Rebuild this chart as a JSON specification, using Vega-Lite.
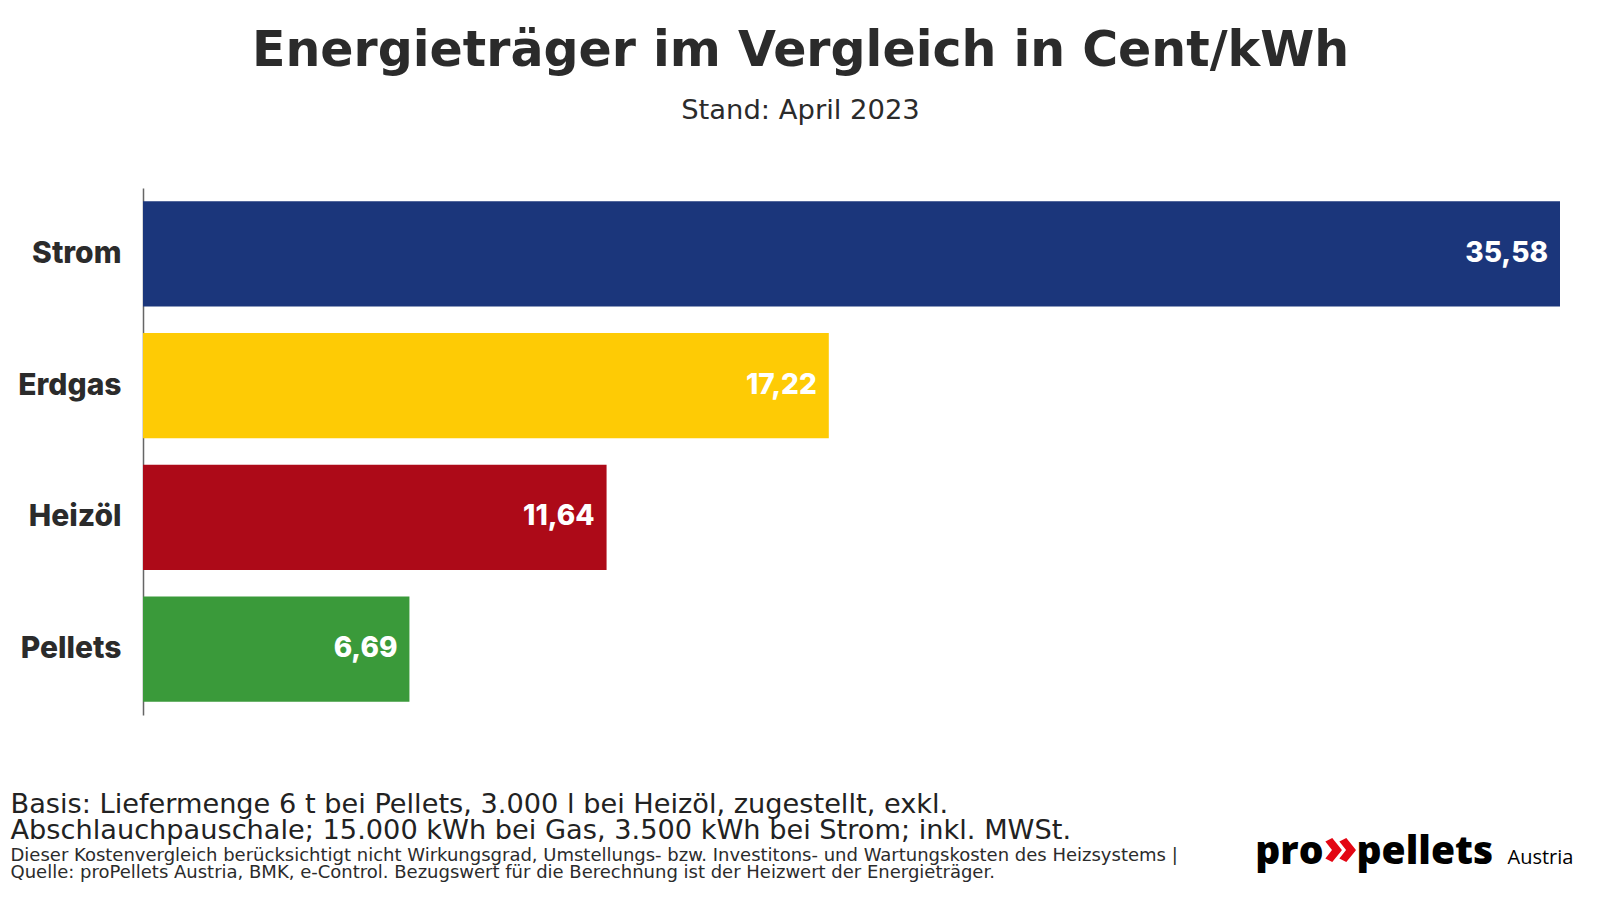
{
  "$schema": "https://vega.github.io/schema/vega-lite/v6.json",
  "width": 1417,
  "height": 527,
  "autosize": "none",
  "padding": {"left": 143, "top": 188, "right": 40, "bottom": 185},
  "background": "white",
  "config": {
    "font": "Inter",
    "view": {"stroke": null},
    "locale": {"number": {"decimal": ",", "thousands": ".", "grouping": [3], "currency": ["", " €"]}}
  },
  "title": {
    "text": "Energieträger im Vergleich in Cent/kWh",
    "subtitle": "Stand: April 2023",
    "anchor": "middle",
    "dx": -51,
    "offset": 64,
    "font": "DejaVu Sans",
    "fontSize": 49,
    "fontWeight": "bold",
    "color": "#2b2b2b",
    "subtitleFont": "DejaVu Sans",
    "subtitleFontSize": 27.4,
    "subtitleColor": "#2b2b2b",
    "subtitlePadding": 21
  },
  "data": {
    "values": [
      {"Energietraeger": "Strom", "Wert": 35.58},
      {"Energietraeger": "Erdgas", "Wert": 17.22},
      {"Energietraeger": "Heizöl", "Wert": 11.64},
      {"Energietraeger": "Pellets", "Wert": 6.69}
    ]
  },
  "resolve": {"axis": {"x": "independent", "y": "independent"}},
  "layer": [
    {
      "mark": {"type": "bar"},
      "encoding": {
        "y": {
          "field": "Energietraeger", "type": "nominal", "sort": null,
          "scale": {"paddingInner": 0.2, "paddingOuter": 0.1},
          "axis": {
            "orient": "left",
            "labelFont": "Inter", "labelFontSize": 30, "labelFontWeight": 800, "labelColor": "#2b2b2b",
            "labelPadding": 22, "ticks": false, "domain": true, "domainColor": "#666666", "domainWidth": 1.5,
            "title": ["Dieser Kostenvergleich berücksichtigt nicht Wirkungsgrad, Umstellungs- bzw. Investitons- und Wartungskosten des Heizsystems |", "Quelle: proPellets Austria, BMK, e-Control. Bezugswert für die Berechnung ist der Heizwert der Energieträger."],
            "titleAngle": 0, "titleX": -133, "titleY": 672, "titleAlign": "left", "titleBaseline": "alphabetic",
            "titleFont": "DejaVu Sans", "titleFontSize": 18, "titleFontWeight": "normal", "titleColor": "#2b2b2b", "titleLineHeight": 17.5
          }
        },
        "x": {
          "field": "Wert", "type": "quantitative",
          "scale": {"domain": [0, 35.58], "nice": false, "zero": true},
          "axis": {
            "orient": "bottom", "labels": false, "ticks": false, "domain": false, "grid": false,
            "title": ["Basis: Liefermenge 6 t bei Pellets, 3.000 l bei Heizöl, zugestellt, exkl.", "Abschlauchpauschale; 15.000 kWh bei Gas, 3.500 kWh bei Strom; inkl. MWSt."],
            "titleX": -133, "titleY": 97, "titleAlign": "left", "titleBaseline": "alphabetic",
            "titleFont": "DejaVu Sans", "titleFontSize": 27.2, "titleFontWeight": "normal", "titleColor": "#222222", "titleLineHeight": 26.5
          }
        },
        "color": {
          "field": "Energietraeger", "type": "nominal",
          "scale": {"domain": ["Strom", "Erdgas", "Heizöl", "Pellets"], "range": ["#1b367b", "#fecb05", "#ad0a18", "#3a9a3a"]},
          "legend": null
        }
      }
    },
    {
      "mark": {"type": "text", "align": "right", "baseline": "middle", "dx": -12, "color": "white", "font": "Inter", "fontSize": 28, "fontWeight": 800},
      "encoding": {
        "y": {
          "field": "Energietraeger", "type": "nominal", "sort": null,
          "axis": {
            "orient": "left", "labels": false, "ticks": false, "domain": false, "grid": false,
            "title": "pro", "titleAngle": 0, "titleX": 1180, "titleY": 675, "titleAlign": "right", "titleBaseline": "alphabetic",
            "titleFont": "Open Sans", "titleFontSize": 39, "titleFontWeight": 800, "titleColor": "#000000"
          }
        },
        "x": {
          "field": "Wert", "type": "quantitative",
          "axis": {
            "orient": "bottom", "labels": false, "ticks": false, "domain": false, "grid": false,
            "title": "Austria", "titleX": 1364, "titleY": 148, "titleAlign": "left", "titleBaseline": "alphabetic",
            "titleFont": "Open Sans", "titleFontSize": 20, "titleFontWeight": "normal", "titleColor": "#000000"
          }
        },
        "text": {"field": "Wert", "type": "quantitative", "format": ".2f"}
      }
    },
    {
      "mark": {"type": "text", "opacity": 0},
      "encoding": {
        "y": {
          "field": "Energietraeger", "type": "nominal", "sort": null,
          "axis": {
            "orient": "left", "labels": false, "ticks": false, "domain": false, "grid": false,
            "title": "»", "titleAngle": 0, "titleX": 1197, "titleY": 675, "titleAlign": "center", "titleBaseline": "alphabetic",
            "titleFont": "Open Sans", "titleFontSize": 50, "titleFontWeight": 800, "titleColor": "#e30613"
          }
        },
        "x": {
          "field": "Wert", "type": "quantitative",
          "axis": {
            "orient": "bottom", "labels": false, "ticks": false, "domain": false, "grid": false,
            "title": "pellets", "titleX": 1213, "titleY": 148, "titleAlign": "left", "titleBaseline": "alphabetic",
            "titleFont": "Open Sans", "titleFontSize": 39, "titleFontWeight": 800, "titleColor": "#000000"
          }
        }
      }
    }
  ]
}
